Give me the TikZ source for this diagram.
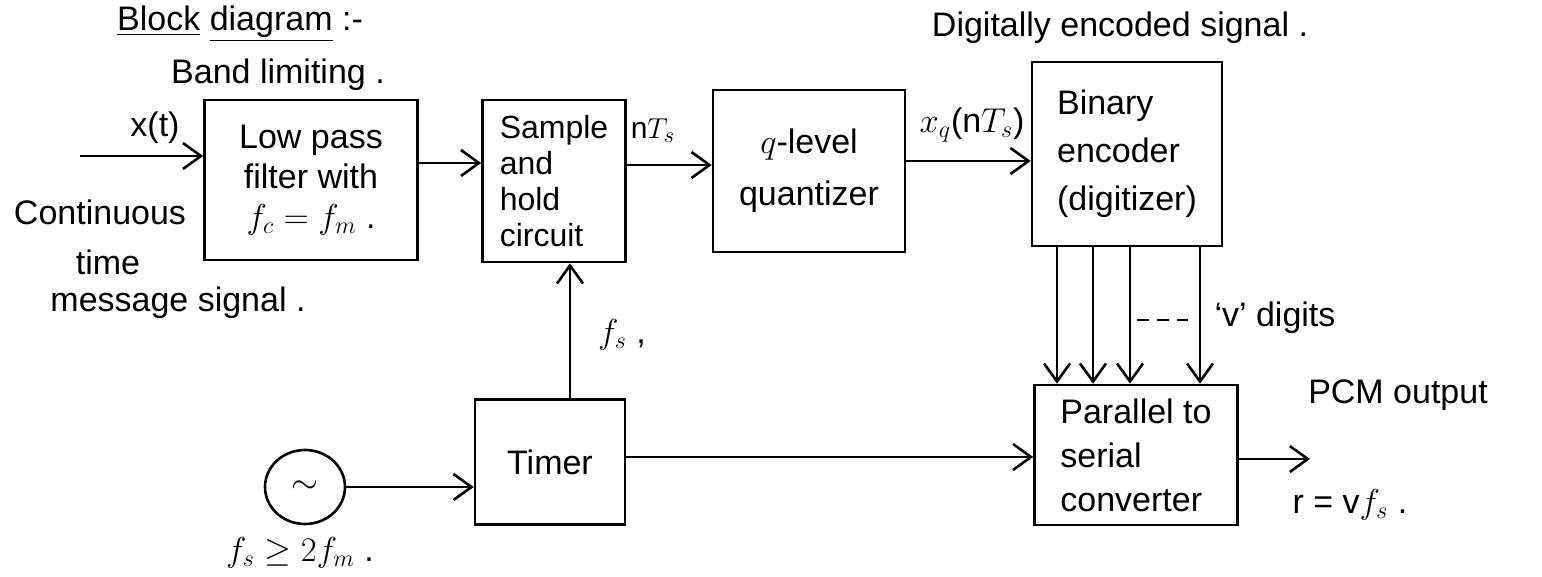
\documentclass[tikz,border=0pt]{standalone}
\usepackage{fontspec}
\setmainfont{Liberation Sans}
\usetikzlibrary{arrows.meta,shapes.geometric}
\begin{document}
\begin{tikzpicture}[x=0.5pt,y=-0.5pt,
  font=\fontsize{17}{20}\selectfont,
  line width=1.3pt,
  blk/.style={draw,rectangle,inner sep=3pt},
  arr/.style={-{Straight Barb[length=9pt,width=13pt]}},
  lbl/.style={inner sep=0pt}]
\useasboundingbox[fill=white] (0,0) rectangle (1542,577);

% title and side notes
\node[lbl] (title) at (240,24) {\underline{Block} \underline{diagram} :-};
\node[lbl] (band) at (278,75) {Band limiting .};
\node[lbl] (dig) at (1120,28) {Digitally encoded signal .};

% processing blocks
\node[blk,minimum width=106.5pt,minimum height=80pt,align=center] (lpf) at (311,180)
  {Low pass\\filter with\\$f_c = f_m$ .};
\node[blk,minimum width=71.5pt,minimum height=81pt,align=left,font=\fontsize{16}{18}\selectfont] (sh) at (554,181)
  {Sample\\and\\hold\\circuit};
\node[blk,minimum width=96pt,minimum height=81pt,align=center,font=\fontsize{17}{26}\selectfont] (qz) at (809,171)
  {$q$-level\\quantizer};
\node[blk,minimum width=95pt,minimum height=92pt,align=left,font=\fontsize{17}{24}\selectfont] (enc) at (1127,154)
  {Binary\\encoder\\(digitizer)};
\node[blk,minimum width=101.5pt,minimum height=70pt,align=left,font=\fontsize{17}{22}\selectfont] (ps) at (1136,455)
  {Parallel to\\serial\\converter};
\node[blk,minimum width=75pt,minimum height=62.5pt] (timer) at (550,462) {Timer};
\node[draw,ellipse,minimum width=40pt,minimum height=37pt,inner sep=0pt,font=\LARGE] (osc) at (305,487) {$\sim$};

% input signal
\coordinate (in) at (80,156);
\node[lbl] (xt) at (155,128) {x(t)};
\node[lbl] (cont) at (100,212) {Continuous};
\node[lbl] (time) at (108,262) {time};
\node[lbl] (msg) at (178,303) {message signal .};
\draw[arr] (in) -- (in -| lpf.west);

% main signal chain
\draw[arr] (lpf.east |- 0,163) -- (sh.west |- 0,163);
\draw[arr] (sh.east |- 0,165) -- (qz.west |- 0,165);
\node[lbl,font=\fontsize{15}{18}\selectfont] (nts) at (653,131) {n$T_s$};
\draw[arr] (qz.east |- 0,161) -- (enc.west |- 0,161);
\node[lbl] (xq) at (972,125) {$x_q$(n$T_s$)};

% parallel digit lines
\foreach \xx in {1057,1093,1130,1200}
  \draw[arr] (enc.south -| \xx,0) -- (ps.north -| \xx,0);
\coordinate (dA) at (1137,320);
\coordinate (dB) at (1188,320);
\draw[dash pattern=on 6pt off 4pt] (dA) -- (dB);
\node[lbl] (vd) at (1275,318) {`v' digits};

% output
\coordinate (out) at (1310,459);
\draw[arr] (ps.east |- out) -- (out);
\node[lbl] (pcm) at (1398,395) {PCM output};
\node[lbl] (rate) at (1350,505) {r = v$f_s$ .};

% clock path
\coordinate (clk) at (570,0);
\draw[arr] (timer.north -| clk) -- (sh.south -| clk);
\node[lbl] (fs) at (622,335) {$f_s$ ,};
\draw[arr] (osc.east) -- (osc.east -| timer.west);
\node[lbl] (fscond) at (300,553) {$f_s \geq 2f_m$ .};
\draw[arr] (timer.east |- 0,457) -- (ps.west |- 0,457);
\end{tikzpicture}
\end{document}
